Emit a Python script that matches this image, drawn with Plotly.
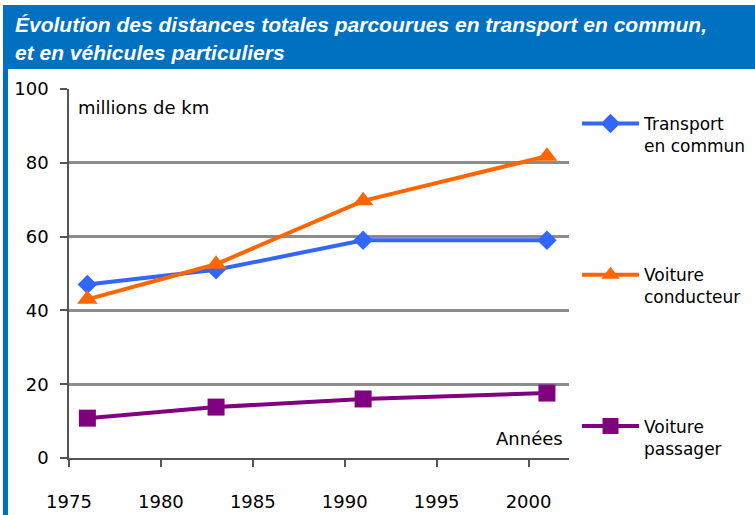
import plotly.graph_objects as go

# Survey years and distances (millions of km)
years = [1976, 1983, 1991, 2001]
transport_commun = [47, 51, 59, 59]
voiture_conducteur = [43, 52.5, 69.7, 81.8]
voiture_passager = [10.8, 13.8, 16.0, 17.6]

series_names = ["Transport<br>en commun", "Voiture<br>conducteur", "Voiture<br>passager"]
series_colors = ["#3366FF", "#FF6600", "#800080"]
series_symbols = ["diamond", "triangle-up", "square"]
series_sizes = [15, 18, 17]

y_ticks = [0, 20, 40, 60, 80, 100]
x_ticks = [1975, 1980, 1985, 1990, 1995, 2000]

title_lines = ["Évolution des distances totales parcourues en transport en commun,",
               "et en véhicules particuliers"]

W, H = 755, 515
L, R, T, B = 69, 186, 89, 57
PW, PH = W - L - R, H - T - B
FONT = "DejaVu Sans"
BLUE = "#0070C0"


def px_x(x):
    """Pixel column -> paper x."""
    return (x - L) / PW


def px_y(y):
    """Pixel row -> paper y."""
    return (H - B - y) / PH


fig = go.Figure()
for i, vals in enumerate([transport_commun, voiture_conducteur, voiture_passager]):
    fig.add_trace(go.Scatter(
        x=years, y=vals, name=series_names[i],
        mode="lines+markers",
        line=dict(color=series_colors[i], width=4),
        marker=dict(symbol=series_symbols[i], size=series_sizes[i],
                    color=series_colors[i]),
        legendgroup=f"g{i}",
    ))

title_annots = [
    dict(text=t, xref="paper", yref="paper", x=px_x(13), y=px_y(yc),
         xanchor="left", yanchor="middle", showarrow=False,
         font=dict(family="Liberation Sans", size=21, color="white",
                   weight="bold", style="italic"))
    for t, yc in zip(title_lines, [24, 53])
]

fig.update_layout(
    width=W, height=H,
    margin=dict(l=L, r=R, t=T, b=B, autoexpand=False),
    paper_bgcolor="white", plot_bgcolor="white",
    font=dict(family=FONT, size=18, color="black"),
    showlegend=True,
    legend=dict(
        xref="container", yref="container",
        x=577 / W, y=1 - 106 / H, xanchor="left", yanchor="top",
        valign="top", traceorder="grouped", tracegroupgap=104,
        itemwidth=57, maxheight=420,
        font=dict(family=FONT, size=17, color="black"),
        bgcolor="rgba(0,0,0,0)",
    ),
    xaxis=dict(
        range=[1975, 2002.2], tickvals=x_ticks, showgrid=False,
        showline=True, linecolor="#555555", linewidth=1.5,
        ticks="outside", ticklen=7, tickcolor="#555555", tickwidth=1.5,
        ticklabelstandoff=20, tickfont=dict(family=FONT, size=18),
        zeroline=False,
    ),
    yaxis=dict(
        range=[0, 100], tickvals=y_ticks, showgrid=True,
        gridcolor="#8C8C8C", gridwidth=3,
        showline=True, linecolor="#555555", linewidth=1.5,
        ticks="outside", ticklen=7, tickcolor="#555555", tickwidth=1.5,
        ticklabelstandoff=8, tickfont=dict(family=FONT, size=18),
        zeroline=False,
    ),
    shapes=[
        # title band
        dict(type="rect", xref="paper", yref="paper",
             x0=px_x(3), x1=px_x(W), y0=px_y(69), y1=px_y(5),
             fillcolor=BLUE, line=dict(width=0), layer="below"),
        # left border
        dict(type="rect", xref="paper", yref="paper",
             x0=px_x(3), x1=px_x(8), y0=px_y(H), y1=px_y(60),
             fillcolor=BLUE, line=dict(width=0), layer="below"),
    ],
    annotations=title_annots + [
        dict(text="millions de km", xref="paper", yref="paper",
             x=px_x(76), y=px_y(108), xanchor="left", yanchor="middle",
             showarrow=False, font=dict(family=FONT, size=18)),
        dict(text="Années", xref="paper", yref="paper",
             x=px_x(565), y=px_y(438), xanchor="right", yanchor="middle",
             showarrow=False, font=dict(family=FONT, size=18)),
    ],
)

fig.write_html("out.html")
